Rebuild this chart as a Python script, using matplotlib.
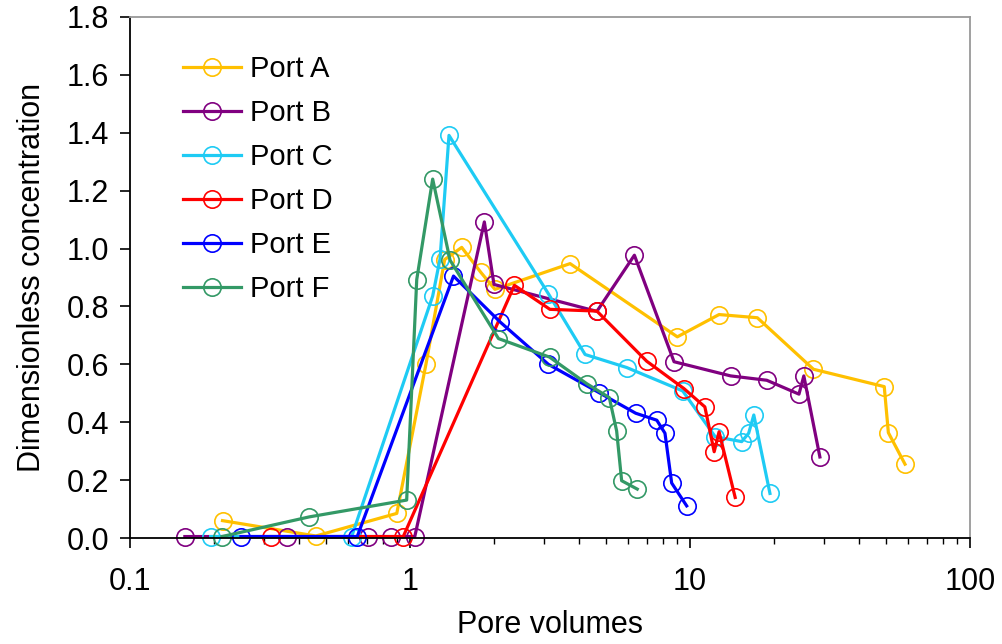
import matplotlib
matplotlib.use("Agg")
import matplotlib.pyplot as plt
from matplotlib.ticker import LogLocator, FixedLocator, NullFormatter

plt.rcParams['font.family'] = ['Liberation Sans', 'DejaVu Sans']

# Data
port_a_x = [0.214, 0.461, 0.897, 1.14, 1.33, 1.53, 1.79, 2.01, 3.73, 9.01, 12.7, 17.4, 27.6, 49.4, 51.1, 58.6]
port_a_y = [0.06, 0.007, 0.085, 0.60, 0.962, 1.004, 0.918, 0.859, 0.948, 0.695, 0.772, 0.761, 0.583, 0.523, 0.364, 0.255]

port_b_x = [0.157, 0.363, 0.710, 0.853, 1.04, 1.843, 1.995, 4.65, 6.33, 8.77, 13.97, 18.8, 24.5, 25.5, 29.1]
port_b_y = [0.005, 0.005, 0.005, 0.005, 0.005, 1.092, 0.876, 0.783, 0.977, 0.609, 0.56, 0.545, 0.497, 0.56, 0.28]

port_c_x = [0.194, 0.619, 1.205, 1.28, 1.378, 3.12, 4.22, 5.94, 9.42, 12.3, 15.3, 16.2, 16.9, 19.3]
port_c_y = [0.005, 0.005, 0.836, 0.964, 1.391, 0.844, 0.634, 0.589, 0.508, 0.35, 0.333, 0.362, 0.425, 0.154]

port_d_x = [0.319, 0.946, 2.36, 3.16, 4.65, 7.0, 9.52, 11.3, 12.2, 12.7, 14.5]
port_d_y = [0.005, 0.005, 0.873, 0.79, 0.784, 0.611, 0.516, 0.453, 0.298, 0.367, 0.14]

port_e_x = [0.249, 0.648, 1.43, 2.10, 3.12, 4.74, 6.40, 7.61, 8.14, 8.60, 9.73]
port_e_y = [0.005, 0.005, 0.905, 0.746, 0.60, 0.502, 0.431, 0.407, 0.362, 0.19, 0.111]

port_f_x = [0.213, 0.437, 0.973, 1.057, 1.205, 1.39, 2.07, 3.15, 4.28, 5.15, 5.47, 5.70, 6.48]
port_f_y = [0.005, 0.073, 0.131, 0.893, 1.24, 0.96, 0.689, 0.625, 0.533, 0.485, 0.37, 0.198, 0.169]

labels = ["Port A", "Port B", "Port C", "Port D", "Port E", "Port F"]
colors = ["#FFC000", "#800080", "#1ECBF4", "#FF0000", "#0000FF", "#339966"]
series = [(port_a_x, port_a_y), (port_b_x, port_b_y), (port_c_x, port_c_y),
          (port_d_x, port_d_y), (port_e_x, port_e_y), (port_f_x, port_f_y)]

x_ticks = [0.1, 1, 10, 100]
x_tick_labels = ["0.1", "1", "10", "100"]
y_ticks = [0.0, 0.2, 0.4, 0.6, 0.8, 1.0, 1.2, 1.4, 1.6, 1.8]

FS = 22

fig = plt.figure(figsize=(10.02, 6.44), dpi=100)
ax = fig.add_axes([130/1002, 1-538/644, 840/1002, 521/644])

for (xs, ys), lab, c in zip(series, labels, colors):
    ax.plot(xs, ys, color=c, lw=2.3, marker='o', ms=12.5, mfc='none',
            mec=c, mew=1.2, label=lab, clip_on=False)

ax.set_xscale('log')
ax.set_xlim(0.1, 100)
ax.set_ylim(0, 1.8)
ax.xaxis.set_major_locator(FixedLocator(x_ticks))
ax.set_xticklabels(x_tick_labels)
ax.xaxis.set_minor_locator(LogLocator(base=10, subs=range(2, 10)))
ax.xaxis.set_minor_formatter(NullFormatter())
ax.set_yticks(y_ticks)
ax.set_yticklabels([f"{v:.1f}" for v in y_ticks])

ax.tick_params(axis='both', which='major', direction='out', length=7, width=1.2,
               labelsize=FS, colors='black')
ax.tick_params(axis='x', which='major', pad=14)
ax.tick_params(axis='y', which='major', pad=8)
ax.tick_params(axis='x', which='minor', direction='out', length=4, width=1.0)

for s in ['left', 'bottom']:
    ax.spines[s].set_color('black')
    ax.spines[s].set_linewidth(1.3)
for s in ['top', 'right']:
    ax.spines[s].set_color('#999999')
    ax.spines[s].set_linewidth(1.3)

ax.set_xlabel("Pore volumes", fontsize=FS, labelpad=9)
ax.set_ylabel("Dimensionless concentration", fontsize=FS, labelpad=14)

leg = ax.legend(loc='upper left', bbox_to_anchor=(0.049, 0.95), frameon=False,
                fontsize=21, handlelength=2.0, handletextpad=0.3,
                labelspacing=0.55, borderaxespad=0)

fig.savefig("out.png", dpi=100)
